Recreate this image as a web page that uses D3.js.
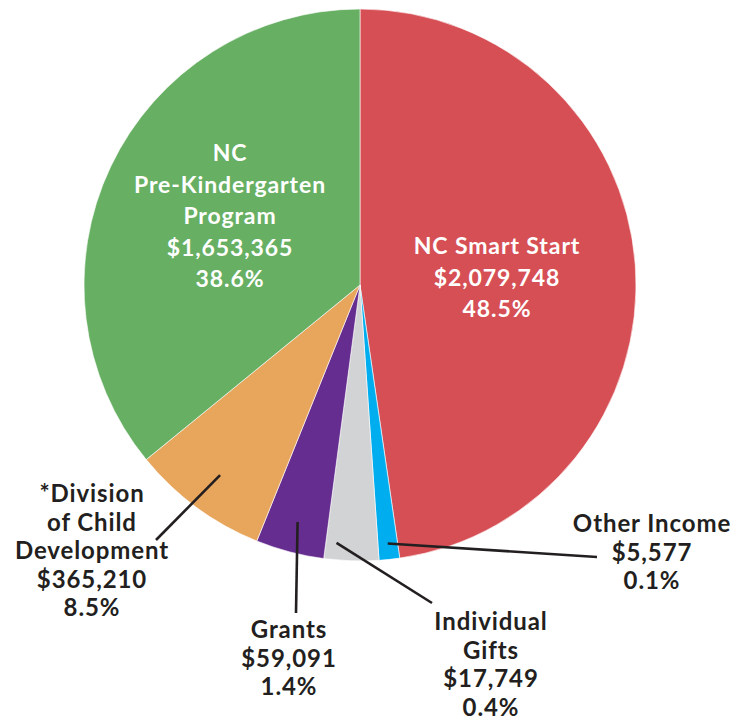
<!DOCTYPE html>
<html>
<head>
<meta charset="utf-8">
<script src="https://cdn.jsdelivr.net/npm/d3@7"></script>
<style>
  body { margin: 0; background: #fff; }
  text { font-family: Lato, "Noto Sans", sans-serif; font-weight: bold; }
</style>
</head>
<body>
<div id="container"></div>
<script>
// slice order runs clockwise from 12 o'clock
let categories = ["NC Smart Start", "Other Income", "Individual Gifts", "Grants",
                  "*Division of Child Development", "NC Pre-Kindergarten Program"];
let amounts = ["$2,079,748", "$5,577", "$17,749", "$59,091", "$365,210", "$1,653,365"];
let percents = ["48.5%", "0.1%", "0.4%", "1.4%", "8.5%", "38.6%"];
// share of the circle each slice takes in the picture
let sliceShares = [47.7, 1.2, 3.2, 4.0, 8.0, 35.9];
let colors = ["#d64f55", "#00aeef", "#d1d3d4", "#652d8f", "#e8a55c", "#67af63"];

let width = 733, height = 719;
let cx = 360, cy = 285, radius = 276;

// label layout: name lines, centre, leader start radius, leader end
let labelLayout = [
  {lines: ["NC Smart Start"], x: 497, y: 254, inside: true},
  {lines: ["Other Income"], x: 652, y: 532, r0: 260, end: [597, 557]},
  {lines: ["Individual", "Gifts"], x: 491, y: 630, r0: 259, aOff: 3.4, end: [432, 603]},
  {lines: ["Grants"], x: 289, y: 638, r0: 245, end: [296, 613]},
  {lines: ["*Division", "of Child", "Development"], x: 92, y: 502, r0: 236, end: [156, 540]},
  {lines: ["NC", "Pre-Kindergarten", "Program"], x: 230, y: 161, inside: true}
];

let data = categories.map(function(c, i){
  return {name: c, amount: amounts[i], pct: percents[i], share: sliceShares[i], color: colors[i], layout: labelLayout[i]};
});

let svg = d3.select("#container")
            .append("svg")
              .attr("width", width)
              .attr("height", height);

let graph = svg.append("g")
               .attr("transform", "translate(" + cx + "," + cy + ")");

let pie = d3.pie()
            .sort(null)
            .value(function(d){ return d.share; });

let arc = d3.arc()
            .innerRadius(0)
            .outerRadius(radius);

let arcs = pie(data);

graph.selectAll("path.slice")
     .data(arcs)
     .enter().append("path")
       .attr("class", "slice")
       .attr("d", arc)
       .attr("fill", function(d){ return d.data.color; })
       .attr("stroke", "#fff")
       .attr("stroke-width", 0.6);

// leader lines
let outside = arcs.filter(function(d){ return !d.data.layout.inside; });
graph.selectAll("line.leader")
     .data(outside)
     .enter().append("line")
       .attr("class", "leader")
       .each(function(d){
         let L = d.data.layout;
         let mid = (d.startAngle + d.endAngle) / 2 + (L.aOff || 0) * Math.PI / 180;
         let p = d3.pointRadial(mid, L.r0);
         d3.select(this)
           .attr("x1", p[0]).attr("y1", p[1])
           .attr("x2", L.end[0] - cx).attr("y2", L.end[1] - cy);
       })
       .attr("stroke", "#231f20")
       .attr("stroke-width", 2.6);

// labels
arcs.forEach(function(d){
  let L = d.data.layout;
  let lines = L.lines.concat([d.data.amount, d.data.pct]);
  let step = L.inside ? 31.5 : 28.5;
  let t = svg.append("text")
             .attr("text-anchor", "middle")
             .attr("fill", L.inside ? "#fff" : "#231f20")
             .style("font-size", L.inside ? "23px" : "24px")
             .style("letter-spacing", "0.9px");
  lines.forEach(function(s, k){
    t.append("tspan")
     .attr("x", L.x)
     .attr("y", L.y + k * step)
     .text(s);
  });
});
</script>
</body>
</html>
